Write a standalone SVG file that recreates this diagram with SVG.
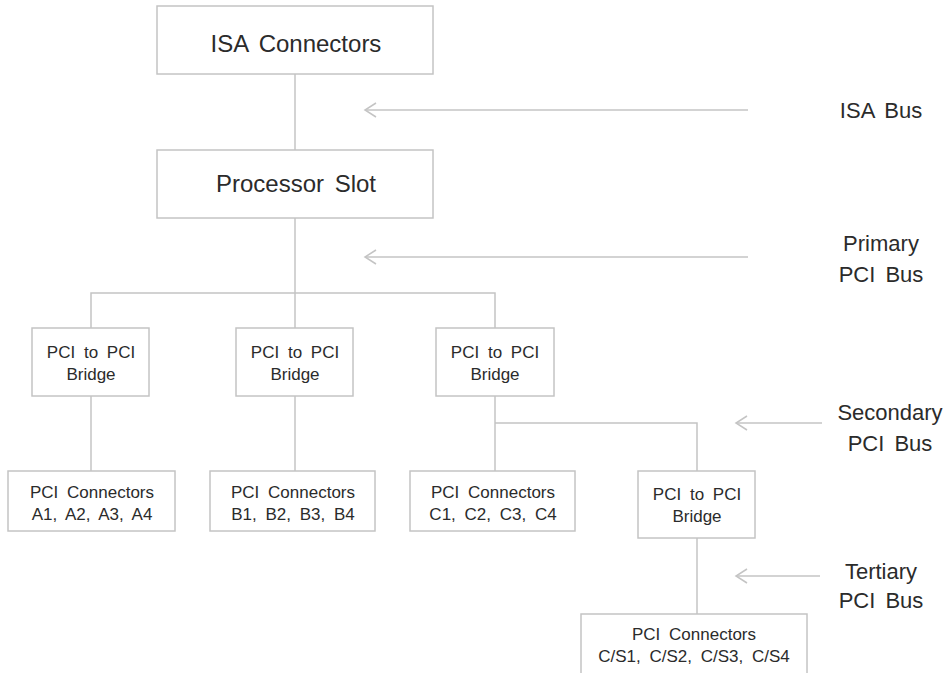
<svg xmlns="http://www.w3.org/2000/svg" width="950" height="673" viewBox="0 0 950 673">
<style>
.box{fill:#fff;stroke:#c4c4c4;stroke-width:1.5}
.ln{fill:none;stroke:#c4c4c4;stroke-width:1.5}
.t{font-family:"Liberation Sans",Arial,sans-serif;fill:#2b2b2b;text-anchor:middle;word-spacing:4px}
.big{font-size:22px}
.xl{font-size:24px}
.sm{font-size:17px}
</style>
<defs>
<marker id="ah" markerWidth="14" markerHeight="16" refX="12" refY="8" orient="auto" markerUnits="userSpaceOnUse">
<path d="M1,1 L12,8 L1,15" fill="none" stroke="#c4c4c4" stroke-width="1.5"/>
</marker>
</defs>
<rect width="950" height="673" fill="#fff"/>
<g id="connectors">
<path class="ln" d="M295,74 V150"/>
<path class="ln" d="M295,218 V328"/>
<path class="ln" d="M91,328 V293 H495 V328"/>
<path class="ln" d="M91,396 V471"/>
<path class="ln" d="M295,396 V471"/>
<path class="ln" d="M495,396 V471"/>
<path class="ln" d="M495,423 H697 V471"/>
<path class="ln" d="M697,538 V614"/>
<path class="ln" d="M748,110 H365" marker-end="url(#ah)"/>
<path class="ln" d="M748,257 H365" marker-end="url(#ah)"/>
<path class="ln" d="M822,423 H736" marker-end="url(#ah)"/>
<path class="ln" d="M820,576 H736" marker-end="url(#ah)"/>
</g>
<g id="isa">
<rect class="box" x="157" y="6" width="276" height="68"/>
<text class="t xl" x="296" y="52">ISA Connectors</text>
</g>
<g id="proc">
<rect class="box" x="157" y="150" width="276" height="68"/>
<text class="t xl" x="296" y="192">Processor Slot</text>
</g>
<g id="bridge1">
<rect class="box" x="32" y="328" width="117" height="68"/>
<text class="t sm" x="91" y="358">PCI to PCI</text>
<text class="t sm" x="91" y="380">Bridge</text>
</g>
<g id="bridge2">
<rect class="box" x="236" y="328" width="117" height="68"/>
<text class="t sm" x="295" y="358">PCI to PCI</text>
<text class="t sm" x="295" y="380">Bridge</text>
</g>
<g id="bridge3">
<rect class="box" x="436" y="328" width="118" height="68"/>
<text class="t sm" x="495" y="358">PCI to PCI</text>
<text class="t sm" x="495" y="380">Bridge</text>
</g>
<g id="bridge4">
<rect class="box" x="638" y="471" width="117" height="67"/>
<text class="t sm" x="697" y="500">PCI to PCI</text>
<text class="t sm" x="697" y="522">Bridge</text>
</g>
<g id="connA">
<rect class="box" x="8" y="471" width="167" height="60"/>
<text class="t sm" x="92" y="498">PCI Connectors</text>
<text class="t sm" x="92" y="520">A1, A2, A3, A4</text>
</g>
<g id="connB">
<rect class="box" x="210" y="471" width="165" height="60"/>
<text class="t sm" x="293" y="498">PCI Connectors</text>
<text class="t sm" x="293" y="520">B1, B2, B3, B4</text>
</g>
<g id="connC">
<rect class="box" x="410" y="471" width="165" height="60"/>
<text class="t sm" x="493" y="498">PCI Connectors</text>
<text class="t sm" x="493" y="520">C1, C2, C3, C4</text>
</g>
<g id="connCS">
<rect class="box" x="581" y="614" width="226" height="70"/>
<text class="t sm" x="694" y="640">PCI Connectors</text>
<text class="t sm" x="694" y="662">C/S1, C/S2, C/S3, C/S4</text>
</g>
<g id="labels">
<text class="t big" x="881" y="118">ISA Bus</text>
<text class="t big" x="881" y="251">Primary</text>
<text class="t big" x="881" y="282">PCI Bus</text>
<text class="t big" x="890" y="420">Secondary</text>
<text class="t big" x="890" y="451">PCI Bus</text>
<text class="t big" x="881" y="579">Tertiary</text>
<text class="t big" x="881" y="608">PCI Bus</text>
</g>
</svg>
